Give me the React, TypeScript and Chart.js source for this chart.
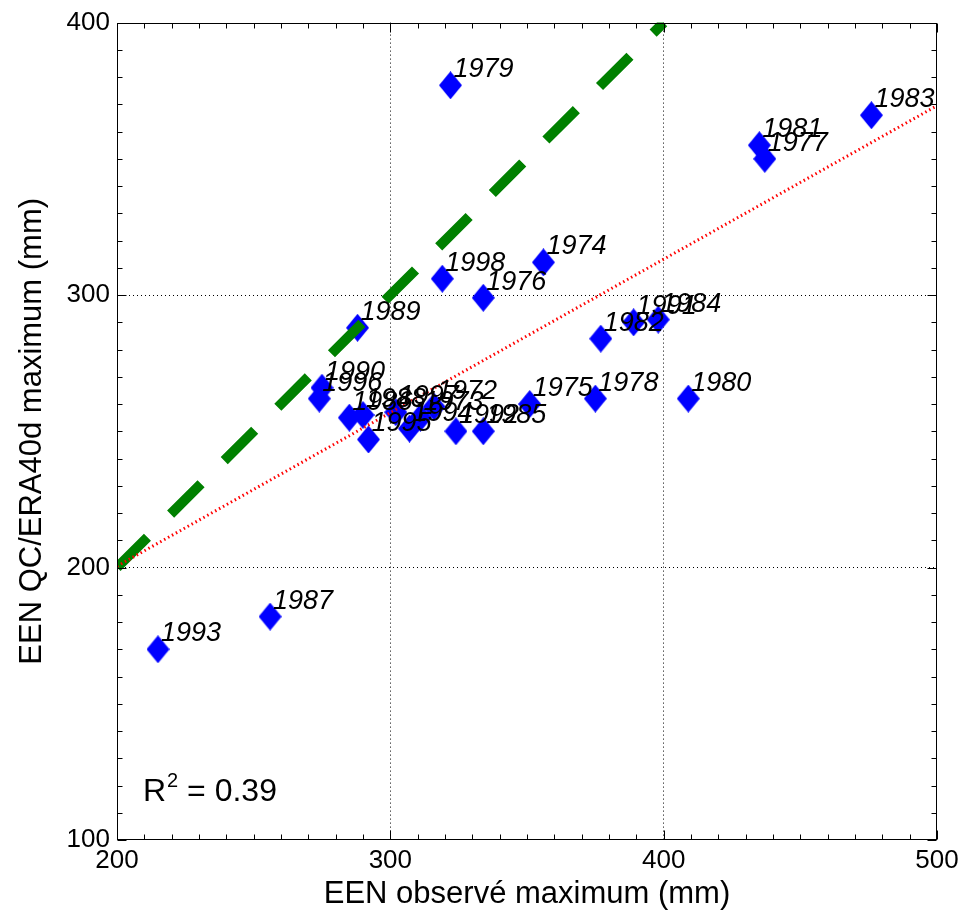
import { useEffect, useRef } from "react";
import { Chart, registerables } from "chart.js";

Chart.register(...registerables);

// ---- Data ----
const years = [
  "1972", "1973", "1974", "1975", "1976", "1977", "1978", "1979", "1980",
  "1981", "1982", "1983", "1984", "1985", "1986", "1987", "1988", "1989",
  "1990", "1991", "1992", "1993", "1994", "1995", "1996", "1997", "1998",
];
const observedMax = [
  316, 311, 356, 351, 334, 437, 375, 322, 409,
  435, 377, 476, 398, 334, 285, 256, 290, 288,
  275, 389, 324, 215, 307, 292, 274, 302, 319,
];
const modelMax = [
  259, 255, 312, 260, 299, 350, 262, 377, 262,
  355, 284, 366, 291, 250, 255, 182, 256, 288,
  266, 290, 250, 170, 251, 247, 262, 257, 306,
];
const oneToOneX = [200, 400];
const oneToOneY = [200, 400];
const regressionX = [200, 500];
const regressionY = [200.5, 369.5];
const xRange = [200, 500];
const yRange = [100, 400];
const rSquaredValue = "0.39";
const rSquaredAt = [209.5, 114.3];

const FONT = "'Liberation Sans', Arial, Helvetica, sans-serif";

function makeDiamond(w: number, h: number, color: string) {
  const c = document.createElement("canvas");
  c.width = w;
  c.height = h;
  const g = c.getContext("2d")!;
  g.fillStyle = color;
  g.beginPath();
  g.moveTo(w / 2, 0);
  g.lineTo(w, h / 2);
  g.lineTo(w / 2, h);
  g.lineTo(0, h / 2);
  g.closePath();
  g.fill();
  return c;
}

const framePlugin = {
  id: "frameAndLabels",
  afterDatasetsDraw(chart: any) {
    const { ctx, chartArea: a, scales } = chart;
    const xs = scales.x;
    const ys = scales.y;
    ctx.save();
    ctx.strokeStyle = "#000";
    ctx.lineWidth = 1;
    ctx.setLineDash([]);
    const L = Math.round(a.left) + 0.5;
    const R = Math.round(a.right) - 0.5;
    const T = Math.round(a.top) + 0.5;
    const B = Math.round(a.bottom) - 0.5;
    ctx.strokeRect(L, T, R - L, B - T);
    ctx.beginPath();
    for (let v = xRange[0]; v <= xRange[1]; v += 10) {
      const p = Math.round(xs.getPixelForValue(v)) + 0.5;
      const len = v % 100 === 0 ? 9 : 5;
      ctx.moveTo(p, B);
      ctx.lineTo(p, B - len);
      ctx.moveTo(p, T);
      ctx.lineTo(p, T + len);
    }
    for (let v = yRange[0]; v <= yRange[1]; v += 10) {
      const p = Math.round(ys.getPixelForValue(v)) + 0.5;
      const len = v % 100 === 0 ? 9 : 5;
      ctx.moveTo(L, p);
      ctx.lineTo(L + len, p);
      ctx.moveTo(R, p);
      ctx.lineTo(R - len, p);
    }
    ctx.stroke();

    // year labels
    const meta = chart.getDatasetMeta(2);
    ctx.fillStyle = "#000";
    ctx.font = `italic 27px ${FONT}`;
    ctx.textAlign = "left";
    ctx.textBaseline = "alphabetic";
    meta.data.forEach((pt: any, i: number) => {
      ctx.fillText(years[i], pt.x + 3, pt.y - 8);
    });

    // R^2 annotation
    const rx = xs.getPixelForValue(rSquaredAt[0]);
    const ry = ys.getPixelForValue(rSquaredAt[1]);
    ctx.font = `32px ${FONT}`;
    ctx.fillText("R", rx, ry);
    const wR = ctx.measureText("R").width;
    ctx.font = `20px ${FONT}`;
    ctx.fillText("2", rx + wR + 1, ry - 14);
    const w2 = ctx.measureText("2").width;
    ctx.font = `32px ${FONT}`;
    ctx.fillText(" = " + rSquaredValue, rx + wR + w2 + 1, ry);
    ctx.restore();
  },
};

export default function App() {
  const ref = useRef<HTMLCanvasElement | null>(null);

  useEffect(() => {
    document.body.style.margin = "0";
    if (!ref.current) return;
    const diamond = makeDiamond(23, 28, "rgb(0,0,255)");
    const gridColor = (c: any) =>
      c.tick && (c.tick.value === c.scale.min || c.tick.value === c.scale.max)
        ? "rgba(0,0,0,0)"
        : "#000";

    const chart = new Chart(ref.current, {
      type: "scatter",
      data: {
        datasets: [
          {
            type: "line",
            label: "regression",
            data: regressionX.map((x, i) => ({ x, y: regressionY[i] })),
            borderColor: "rgb(255,0,0)",
            borderWidth: 3,
            borderDash: [1.5, 3],
            pointRadius: 0,
            fill: false,
            order: 0,
            clip: 0,
          } as any,
          {
            type: "line",
            label: "1:1",
            data: oneToOneX.map((x, i) => ({ x, y: oneToOneY[i] })),
            borderColor: "rgb(0,128,0)",
            borderWidth: 10,
            borderDash: [43, 32.7],
            borderCapStyle: "butt",
            pointRadius: 0,
            fill: false,
            order: 1,
            clip: 0,
          } as any,
          {
            type: "scatter",
            label: "years",
            data: observedMax.map((x, i) => ({ x, y: modelMax[i] })),
            pointStyle: diamond as any,
            pointRadius: 12,
            order: 2,
          } as any,
        ],
      },
      options: {
        animation: false,
        responsive: true,
        maintainAspectRatio: false,
        layout: { padding: { top: 21, right: 29, left: 0, bottom: 0 } },
        plugins: {
          legend: { display: false },
          tooltip: { enabled: false },
        },
        scales: {
          x: {
            type: "linear",
            position: "bottom",
            min: xRange[0],
            max: xRange[1],
            afterFit: (s: any) => {
              s.height = 75;
            },
            ticks: {
              stepSize: 100,
              color: "#000",
              padding: 5,
              font: { family: FONT, size: 26 },
              maxRotation: 0,
            },
            grid: { color: gridColor, lineWidth: 1, drawTicks: false },
            border: { display: false, dash: [1, 3] },
            title: {
              display: true,
              text: "EEN observé maximum (mm)",
              color: "#000",
              font: { family: FONT, size: 31 },
              padding: { top: 0, bottom: 2 },
            },
          },
          y: {
            type: "linear",
            min: yRange[0],
            max: yRange[1],
            afterFit: (s: any) => {
              s.width = 117;
            },
            ticks: {
              stepSize: 100,
              color: "#000",
              padding: 7,
              font: { family: FONT, size: 26 },
            },
            grid: { color: gridColor, lineWidth: 1, drawTicks: false },
            border: { display: false, dash: [1, 3] },
            title: {
              display: true,
              text: "EEN QC/ERA40d maximum (mm)",
              color: "#000",
              font: { family: FONT, size: 31 },
              padding: { top: 14, bottom: 0 },
            },
          },
        },
      },
      plugins: [framePlugin],
    });
    return () => chart.destroy();
  }, []);

  return (
    <div style={{ width: 966, height: 915, position: "relative", background: "#fff" }}>
      <canvas ref={ref} />
    </div>
  );
}
